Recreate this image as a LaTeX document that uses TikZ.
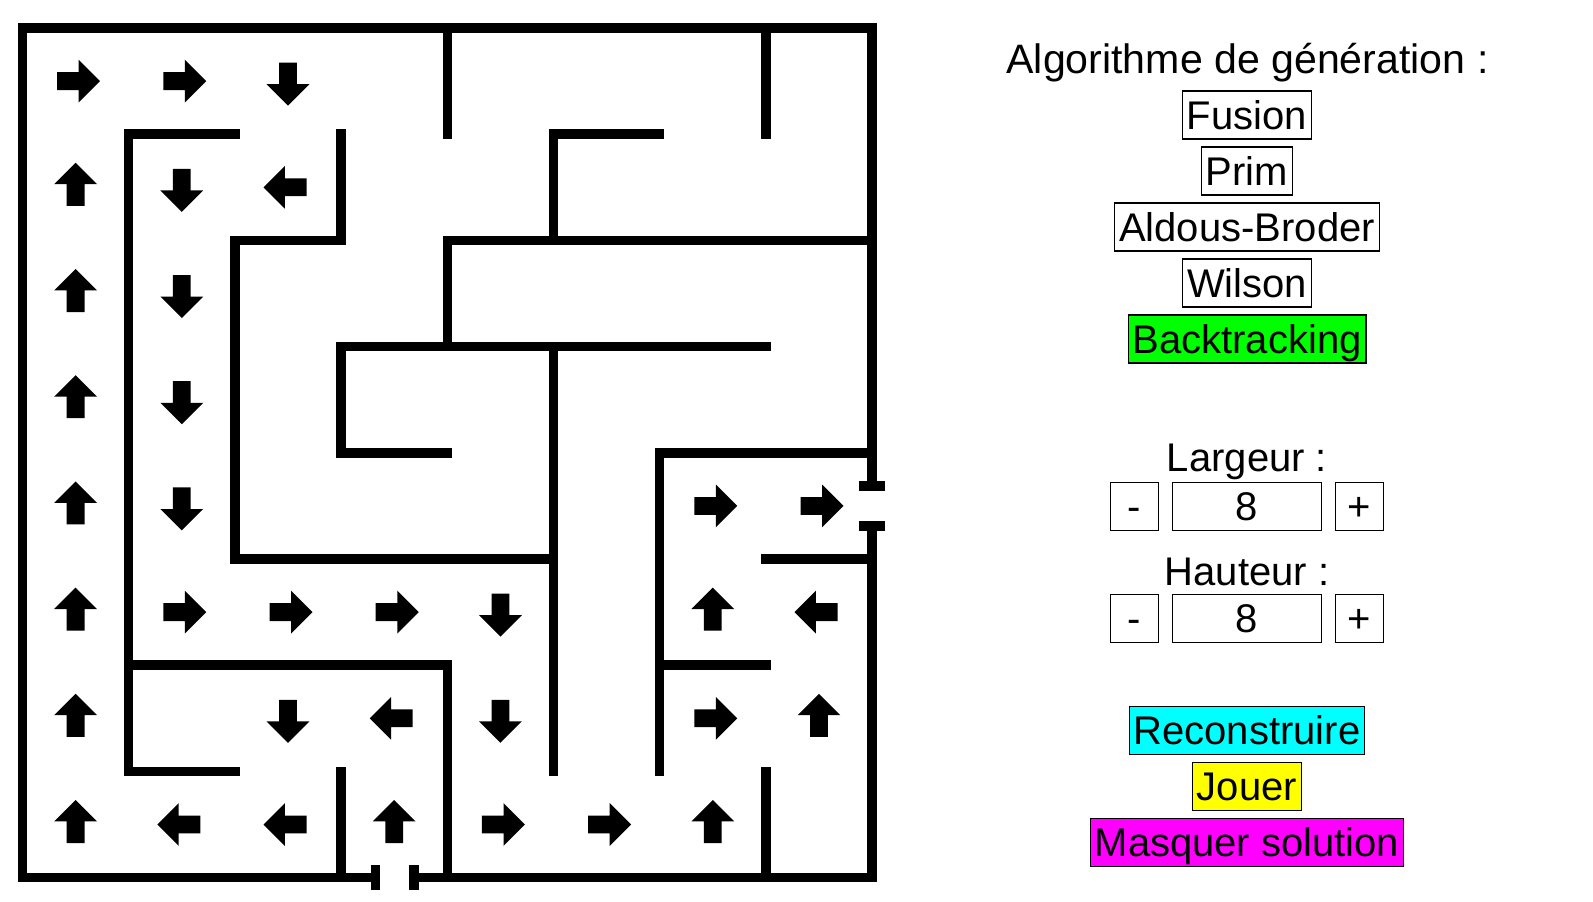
\documentclass[tikz,border=0pt]{standalone}
\usepackage{fontspec}
\setmainfont{Liberation Sans}
\usetikzlibrary{shapes.arrows,positioning}

\definecolor{vertvif}{RGB}{0,255,0}
\definecolor{cyanvif}{RGB}{0,255,255}
\definecolor{jaunevif}{RGB}{255,255,0}
\definecolor{magentavif}{RGB}{255,0,255}

\tikzset{
	wall/.style={line width=4.75pt,line cap=rect,line join=miter},
	solarrow/.style={single arrow,fill=black,inner xsep=0pt,inner ysep=4.25pt,outer sep=0pt,
		minimum height=21.5pt,single arrow head extend=6.25pt,anchor=tail},
	bouton/.style={draw,line width=0.6pt,inner xsep=2.2pt,inner ysep=0pt,
		text height=19pt,text depth=5pt,font=\fontsize{20pt}{24pt}\selectfont},
	etiquette/.style={anchor=base,font=\fontsize{20pt}{24pt}\selectfont},
}

\begin{document}
\begin{tikzpicture}[x=53.1pt,y=-53.1pt,node distance=3.4pt]

	\useasboundingbox (-0.2119,-0.2637) rectangle (14.7881,8.2203);

	% outer walls with the two doors
	\draw[wall] (3.322,8) -- (0,8) -- (0,0) -- (8,0) -- (8,4.313);
	\draw[wall] (3.686,8) -- (8,8) -- (8,4.689);
	\draw[wall] (7.925,4.313) -- (8.075,4.313);
	\draw[wall] (7.925,4.689) -- (8.075,4.689);
	\draw[wall] (3.322,7.925) -- (3.322,8.075);
	\draw[wall] (3.686,7.925) -- (3.686,8.075);

	% inner walls
	\draw[wall] (2,1) -- (1,1) -- (1,7) -- (2,7);
	\draw[wall] (1,6) -- (4,6) -- (4,8);
	\draw[wall] (3,1) -- (3,2) -- (2,2) -- (2,5) -- (5,5);
	\draw[wall] (4,0) -- (4,1);
	\draw[wall] (8,2) -- (4,2) -- (4,3);
	\draw[wall] (6,1) -- (5,1) -- (5,2);
	\draw[wall] (7,0) -- (7,1);
	\draw[wall] (4,4) -- (3,4) -- (3,3) -- (7,3);
	\draw[wall] (5,3) -- (5,7);
	\draw[wall] (8,4) -- (6,4) -- (6,7);
	\draw[wall] (6,6) -- (7,6);
	\draw[wall] (7,5) -- (8,5);
	\draw[wall] (3,7) -- (3,8);
	\draw[wall] (7,7) -- (7,8);

	% solution path
	\foreach \c/\r/\a in {0/0/0,1/0/0,2/0/-90,
			0/1/90,1/1/-90,2/1/180,
			0/2/90,1/2/-90,
			0/3/90,1/3/-90,
			0/4/90,1/4/-90,6/4/0,7/4/0,
			0/5/90,1/5/0,2/5/0,3/5/0,4/5/-90,6/5/90,7/5/180,
			0/6/90,2/6/-90,3/6/180,4/6/-90,6/6/0,7/6/90,
			0/7/90,1/7/180,2/7/180,3/7/90,4/7/0,5/7/0,6/7/90}
		\node[solarrow,rotate=\a] (p\c\r) at ([shift={(\a+180:9.25pt)}]\c+.5,\r+.5) {};

	% panel
	\node[etiquette,font=\fontsize{20.55pt}{24pt}\selectfont] (algo) at (11.535,0.4266) {Algorithme de génération :};
	\node[bouton] (fusion) at (11.53,0.8192) {Fusion};
	\node[bouton,below=of fusion] (prim) {Prim};
	\node[bouton,below=of prim] (aldous) {Aldous-Broder};
	\node[bouton,below=of aldous] (wilson) {Wilson};
	\node[bouton,fill=vertvif,below=of wilson] (backtracking) {Backtracking};

	\node[etiquette] (largeur) at (11.53,4.178) {Largeur :};
	\node[bouton,minimum width=74.4pt] (valL) at (11.53,4.5075) {8};
	\node[bouton,minimum width=24pt,left=6.5pt of valL] (moinsL) {-};
	\node[bouton,minimum width=24pt,right=6.5pt of valL] (plusL) {+};

	\node[etiquette] (hauteur) at (11.53,5.2448) {Hauteur :};
	\node[bouton,minimum width=74.4pt] (valH) at (11.53,5.5584) {8};
	\node[bouton,minimum width=24pt,left=6.5pt of valH] (moinsH) {-};
	\node[bouton,minimum width=24pt,right=6.5pt of valH] (plusH) {+};

	\node[bouton,fill=cyanvif] (reconstruire) at (11.53,6.6149) {Reconstruire};
	\node[bouton,fill=jaunevif,below=of reconstruire] (jouer) {Jouer};
	\node[bouton,fill=magentavif,below=of jouer] (masquer) {Masquer solution};

\end{tikzpicture}
\end{document}
